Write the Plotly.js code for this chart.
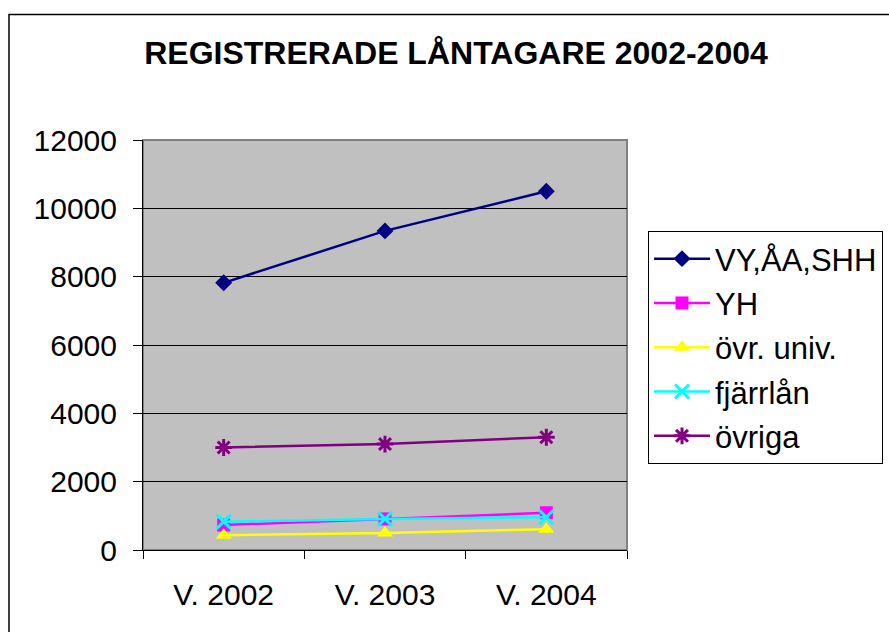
<!DOCTYPE html>
<html>
<head>
<meta charset="utf-8">
<script src="https://cdn.plot.ly/plotly-3.0.1.min.js"></script>
<style>html,body{margin:0;padding:0;background:#fff;}#chart{width:889px;height:632px;}</style>
</head>
<body>
<div id="chart"></div>
<script>
const categories = ["V. 2002", "V. 2003", "V. 2004"];
const seriesNames = ["VY,ÅA,SHH", "YH", "övr. univ.", "fjärrlån", "övriga"];
const vyAaShh = [7820, 9340, 10500];
const yh = [730, 910, 1090];
const ovrUniv = [430, 500, 610];
const fjarrlan = [830, 910, 960];
const ovriga = [3000, 3100, 3300];
const yTickVals = [0, 2000, 4000, 6000, 8000, 10000, 12000];
const chartTitle = "REGISTRERADE LÅNTAGARE 2002-2004";

const seriesValues = [vyAaShh, yh, ovrUniv, fjarrlan, ovriga];
const colors = ["#000080", "#FF00FF", "#FFFF00", "#00FFFF", "#800080"];
const symbols = ["diamond", "square", "triangle-up", "x-thin-open", "asterisk-open"];
const sizes = [13, 13, 14, 14, 14];

const traces = seriesValues.map((vals, i) => {
  const open = symbols[i].indexOf("open") >= 0;
  return {
    type: "scatter",
    mode: "lines+markers",
    x: categories,
    y: vals,
    name: seriesNames[i],
    legendgroup: "g" + i,
    line: {color: colors[i], width: 2.5},
    marker: {
      symbol: symbols[i],
      size: sizes[i],
      color: colors[i],
      line: open ? {color: colors[i], width: 3} : {width: 0}
    },
    cliponaxis: false
  };
});

const font = "Liberation Sans, Arial, sans-serif";
const l = 143, r = 262, t = 140, b = 82;
const pw = 889 - l - r, ph = 632 - t - b;

const layout = {
  width: 889, height: 632,
  margin: {l: l, r: r, t: t, b: b, pad: 0, autoexpand: false},
  paper_bgcolor: "#ffffff",
  plot_bgcolor: "#c0c0c0",
  font: {family: font, color: "#000", size: 30},
  title: {
    text: "<b>" + chartTitle + "</b>",
    font: {family: font, size: 32, color: "#000"},
    xref: "container", yref: "container",
    x: 456 / 889, xanchor: "center",
    y: 1 - 53 / 632, yanchor: "middle"
  },
  xaxis: {
    type: "category",
    tickson: "boundaries",
    ticks: "outside", ticklen: 8, tickcolor: "#000", tickwidth: 1,
    showgrid: false,
    showline: true, linecolor: "#000", linewidth: 1,
    tickfont: {family: font, size: 30, color: "#000"},
    ticklabelstandoff: 18,
    range: [-0.5, 2.5],
    zeroline: false,
    automargin: false,
    fixedrange: true
  },
  yaxis: {
    range: [0, 12000],
    tickvals: yTickVals,
    ticktext: yTickVals.map(String),
    ticks: "outside", ticklen: 9, tickcolor: "#000", tickwidth: 1,
    showgrid: true, gridcolor: "#000", gridwidth: 1,
    showline: true, linecolor: "#000", linewidth: 1,
    zeroline: false,
    tickfont: {family: font, size: 30, color: "#000"},
    ticklabelstandoff: 10,
    automargin: false,
    fixedrange: true
  },
  showlegend: true,
  legend: {
    x: (648 - l) / pw, xanchor: "left",
    y: (550 - 231) / ph, yanchor: "top",
    bgcolor: "#ffffff",
    bordercolor: "#000", borderwidth: 1,
    font: {family: font, size: 31, color: "#000"},
    traceorder: "grouped",
    tracegroupgap: 1,
    itemwidth: 56
  },
  shapes: [
    {type: "rect", xref: "paper", yref: "paper", x0: 0, x1: 1, y0: 0, y1: 1,
     line: {color: "#808080", width: 2}, layer: "below"},
    {type: "rect", xref: "paper", yref: "paper",
     x0: (9 - l) / pw, x1: (900 - l) / pw, y0: (550 - 14.5) / ph, y1: (550 - 660) / ph,
     line: {color: "#000", width: 1.5}, layer: "below"}
  ]
};

Plotly.newPlot("chart", traces, layout, {displayModeBar: false, staticPlot: true});
</script>
</body>
</html>
